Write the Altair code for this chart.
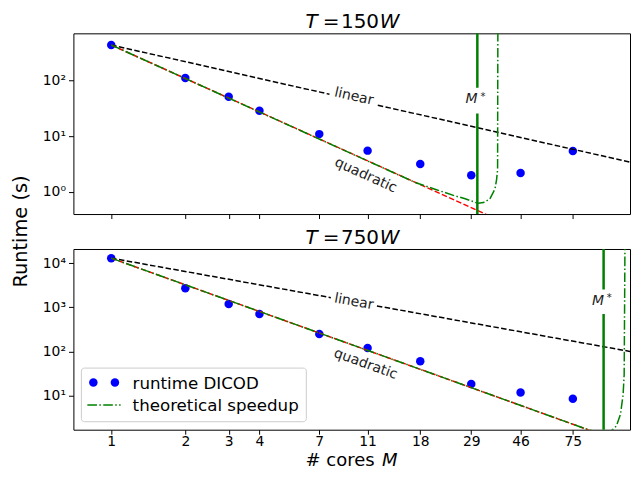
import altair as alt
import pandas as pd

FONT = "DejaVu Sans"
BLUE, GREEN, RED, BLACK = "#0000ff", "#008000", "#ff0000", "#000000"

# ---------------- shared x axis ----------------
x_ticks = [1, 2, 3, 4, 7, 11, 18, 29, 46, 75]
x_domain = [0.702, 128]

# ---------------- T = 150W ----------------
top_M = [1, 2, 3, 4, 7, 11, 18, 29, 46, 75]
top_runtime = [437, 111, 51, 28.8, 10.9, 5.5, 3.16, 1.98, 2.18, 5.4]
top_y_domain = [0.398, 708]
top_y_ticks = [1, 10, 100]
top_linear_M = [1, 7.7, 12.1, 128]
top_linear_v = [437, 56.8, 36.1, 3.41]
top_linear_seg = [0, 0, 1, 1]
top_quad_M = [1, 33.3]
top_quad_v = [437, 0.394]
top_theo_M = [1, 17.3, 20.8, 25.0, 27.4, 30.9, 32.5, 34.5, 36.2, 36.75, 37.1, 37.2]
top_theo_v = [437, 1.45, 1.10, 0.84, 0.75, 0.62, 0.64, 0.74, 1.12, 1.66, 2.5, 1000]
top_mstar = 30.7
top_mstar_lo = [0.3, 74.4]
top_mstar_hi = [25.7, 1000]
top_lbl_linear = (9.67, 51.5, 12.7)
top_lbl_quad = (10.8, 1.97, 24.4)
top_lbl_mstar_v = 39
top_title = ["T", "=", "150", "W"]

# ---------------- T = 750W ----------------
bot_M = [1, 2, 3, 4, 7, 11, 18, 29, 46, 75]
bot_runtime = [12900, 2710, 1190, 710, 249, 121, 60.8, 18.6, 11.9, 8.6]
bot_y_domain = [1.72, 20800]
bot_y_ticks = [10, 100, 1000, 10000]
bot_linear_M = [1, 7.8, 12.0, 128]
bot_linear_v = [12900, 1654, 1075, 100.8]
bot_linear_seg = [0, 0, 1, 1]
bot_quad_M = [1, 87]
bot_quad_v = [12900, 1.70]
bot_theo_M = [1, 87, 100, 106, 109.5, 112.8, 117.1, 120.0, 121.2, 121.9, 122.1]
bot_theo_v = [12900, 1.70, 1.45, 1.55, 1.77, 2.10, 3.84, 10.7, 30, 5060, 30000]
bot_mstar = 100
bot_mstar_lo = [1.0, 2540]
bot_mstar_hi = [706, 30000]
bot_lbl_linear = (9.67, 1334, 10.2)
bot_lbl_quad = (10.8, 52.1, 19.8)
bot_lbl_mstar_v = 1138
bot_title = ["T", "=", "750", "W"]

legend_labels = ["runtime DICOD", "theoretical speedup"]

W = 557.5
H_TOP = 181
H_BOT = 181
GAP = 35
TITLE_Y = -5

SUP = {1: "10⁰", 10: "10¹", 100: "10²", 1000: "10³", 10000: "10⁴"}


def y_label_expr(ticks):
    expr = "''"
    for t in reversed(ticks):
        expr = f"datum.value == {t} ? '{SUP[t]}' : ({expr})"
    return expr


def one():
    return alt.Data(values=[{"k": 1}])


def panel(M, runtime, y_domain, y_ticks, lin_M, lin_v, lin_seg, quad_M, quad_v,
          theo_M, theo_v, mstar, ms_lo, ms_hi, lbl_lin, lbl_quad, lbl_ms_v,
          title, height, show_x_labels):
    xs = alt.Scale(type="log", domain=x_domain, nice=False)
    ys = alt.Scale(type="log", domain=y_domain, nice=False)
    x_axis = alt.Axis(values=x_ticks, format="d", labels=show_x_labels, title=None,
                      grid=False, domain=False, tickSize=4.5, tickWidth=1,
                      tickColor=BLACK, labelColor=BLACK, labelFont=FONT,
                      labelFontSize=13.9, labelPadding=0.5, labelOverlap=False,
                      labelFlush=False)
    y_axis = alt.Axis(values=y_ticks, labelExpr=y_label_expr(y_ticks), title=None,
                      grid=False, domain=False, tickSize=4.9, tickWidth=1,
                      tickColor=BLACK, labelColor=BLACK, labelFont=FONT,
                      labelFontSize=13.9, labelPadding=3, labelOverlap=False,
                      labelFlush=False)
    X = alt.X("M:Q", scale=xs, axis=x_axis)
    Y = alt.Y("v:Q", scale=ys, axis=y_axis)

    pts = alt.Chart(pd.DataFrame({"M": M, "v": runtime})).mark_circle(
        size=72, color=BLUE, opacity=1).encode(x=X, y=Y)

    lin = alt.Chart(pd.DataFrame({"M": lin_M, "v": lin_v, "seg": lin_seg})).mark_line(
        color=BLACK, strokeWidth=1.5, strokeDash=[5.5, 2.4], clip=True
    ).encode(x=X, y=Y, detail="seg:N")

    quad = alt.Chart(pd.DataFrame({"M": quad_M, "v": quad_v})).mark_line(
        color=RED, strokeWidth=1.5, strokeDash=[5.5, 2.4], clip=True
    ).encode(x=X, y=Y)

    theo = alt.Chart(pd.DataFrame({"M": theo_M, "v": theo_v})).mark_line(
        color=GREEN, strokeWidth=1.5, strokeDash=[9.6, 2.4, 1.5, 2.4], clip=True
    ).encode(x=X, y=Y)

    ms = alt.Chart(pd.DataFrame({"M": [mstar, mstar], "v": ms_lo, "hi": ms_hi})).mark_rule(
        color=GREEN, strokeWidth=2.5, clip=True
    ).encode(x=X, y=Y, y2="hi:Q")

    def txt(pos, text, angle):
        return alt.Chart(pd.DataFrame({"M": [pos[0]], "v": [pos[1]]})).mark_text(
            text=text, font=FONT, fontSize=14, angle=angle, align="center",
            baseline="middle", color="#222222"
        ).encode(x=X, y=Y)

    t_lin = txt(lbl_lin[:2], "linear", lbl_lin[2])
    t_quad = txt(lbl_quad[:2], "quadratic", lbl_quad[2])

    ms_df = pd.DataFrame({"M": [mstar], "v": [lbl_ms_v]})
    t_m = alt.Chart(ms_df).mark_text(
        text="M", font=FONT, fontSize=14, fontStyle="italic", align="center",
        baseline="alphabetic", dx=-5.7, color="#222222").encode(x=X, y=Y)
    t_star = alt.Chart(ms_df).mark_text(
        text="*", font=FONT, fontSize=10, align="center",
        baseline="alphabetic", dx=5.7, dy=-3.5, color="#222222").encode(x=X, y=Y)

    # panel title composed of italic and upright parts
    tparts = []
    for s, xpos, ital in [(title[0], 232.5, True), (title[1], 249.8, False),
                          (title[2], 268.0, False), (title[3], 306.8, True)]:
        mk = dict(text=s, font=FONT, fontSize=20, align="left",
                  baseline="alphabetic", color=BLACK)
        if ital:
            mk["fontStyle"] = "italic"
        tparts.append(alt.Chart(one()).mark_text(**mk).encode(
            x=alt.value(xpos), y=alt.value(TITLE_Y)))

    layers = [pts, lin, quad, theo, ms, t_lin, t_quad, t_m, t_star] + tparts
    return layers


top_layers = panel(top_M, top_runtime, top_y_domain, top_y_ticks, top_linear_M,
                   top_linear_v, top_linear_seg, top_quad_M, top_quad_v, top_theo_M,
                   top_theo_v, top_mstar, top_mstar_lo, top_mstar_hi, top_lbl_linear,
                   top_lbl_quad, top_lbl_mstar_v, top_title, H_TOP, False)

y_title = alt.Chart(one()).mark_text(
    text="Runtime (s)", font=FONT, fontSize=19.4, angle=270, align="center",
    baseline="alphabetic", color=BLACK).encode(x=alt.value(-46.2), y=alt.value(H_TOP + GAP / 2))
top = alt.layer(*top_layers, y_title).properties(width=W, height=H_TOP)

bot_layers = panel(bot_M, bot_runtime, bot_y_domain, bot_y_ticks, bot_linear_M,
                   bot_linear_v, bot_linear_seg, bot_quad_M, bot_quad_v, bot_theo_M,
                   bot_theo_v, bot_mstar, bot_mstar_lo, bot_mstar_hi, bot_lbl_linear,
                   bot_lbl_quad, bot_lbl_mstar_v, bot_title, H_BOT, True)

# legend (drawn by hand, matplotlib style), anchored to the panel's lower left
leg_box = alt.Chart(one()).mark_rect(
    fill="white", fillOpacity=0.8, stroke="#cccccc", strokeWidth=1, cornerRadius=3
).encode(x=alt.value(8), x2=alt.value(233.3), y=alt.value(H_BOT - 61.7),
         y2=alt.value(H_BOT - 8))
leg_p1 = alt.Chart(one()).mark_circle(size=72, color=BLUE, opacity=1).encode(
    x=alt.value(20), y=alt.value(H_BOT - 47.3))
leg_p2 = alt.Chart(one()).mark_circle(size=72, color=BLUE, opacity=1).encode(
    x=alt.value(41.6), y=alt.value(H_BOT - 47.3))
leg_line = alt.Chart(one()).mark_rule(
    color=GREEN, strokeWidth=1.5, strokeDash=[9.6, 2.4, 1.5, 2.4]
).encode(x=alt.value(14), x2=alt.value(47.3), y=alt.value(H_BOT - 24.7))
leg_t1 = alt.Chart(one()).mark_text(
    text=legend_labels[0], font=FONT, fontSize=16.7, align="left", baseline="alphabetic",
    color=BLACK).encode(x=alt.value(59.3), y=alt.value(H_BOT - 40.7))
leg_t2 = alt.Chart(one()).mark_text(
    text=legend_labels[1], font=FONT, fontSize=16.7, align="left", baseline="alphabetic",
    color=BLACK).encode(x=alt.value(59.3), y=alt.value(H_BOT - 19))

X_TITLE_Y = H_BOT + 36.3
x_title1 = alt.Chart(one()).mark_text(
    text="# cores", font=FONT, fontSize=18, align="left", baseline="alphabetic",
    color=BLACK).encode(x=alt.value(232.5), y=alt.value(X_TITLE_Y))
x_title2 = alt.Chart(one()).mark_text(
    text="M", font=FONT, fontSize=18, fontStyle="italic", align="left",
    baseline="alphabetic", color=BLACK).encode(x=alt.value(309.0), y=alt.value(X_TITLE_Y))

bottom = alt.layer(*bot_layers, leg_box, leg_p1, leg_p2, leg_line, leg_t1, leg_t2,
                   x_title1, x_title2).properties(width=W, height=H_BOT)

chart = alt.vconcat(top, bottom, spacing=GAP, bounds="flush").properties(
    padding={"left": 2.5, "top": 3, "right": 0, "bottom": 0.5},
).configure(font=FONT).configure_view(stroke=BLACK, strokeWidth=1)

chart.save("out.html", embed_options={"renderer": "svg", "actions": False})
